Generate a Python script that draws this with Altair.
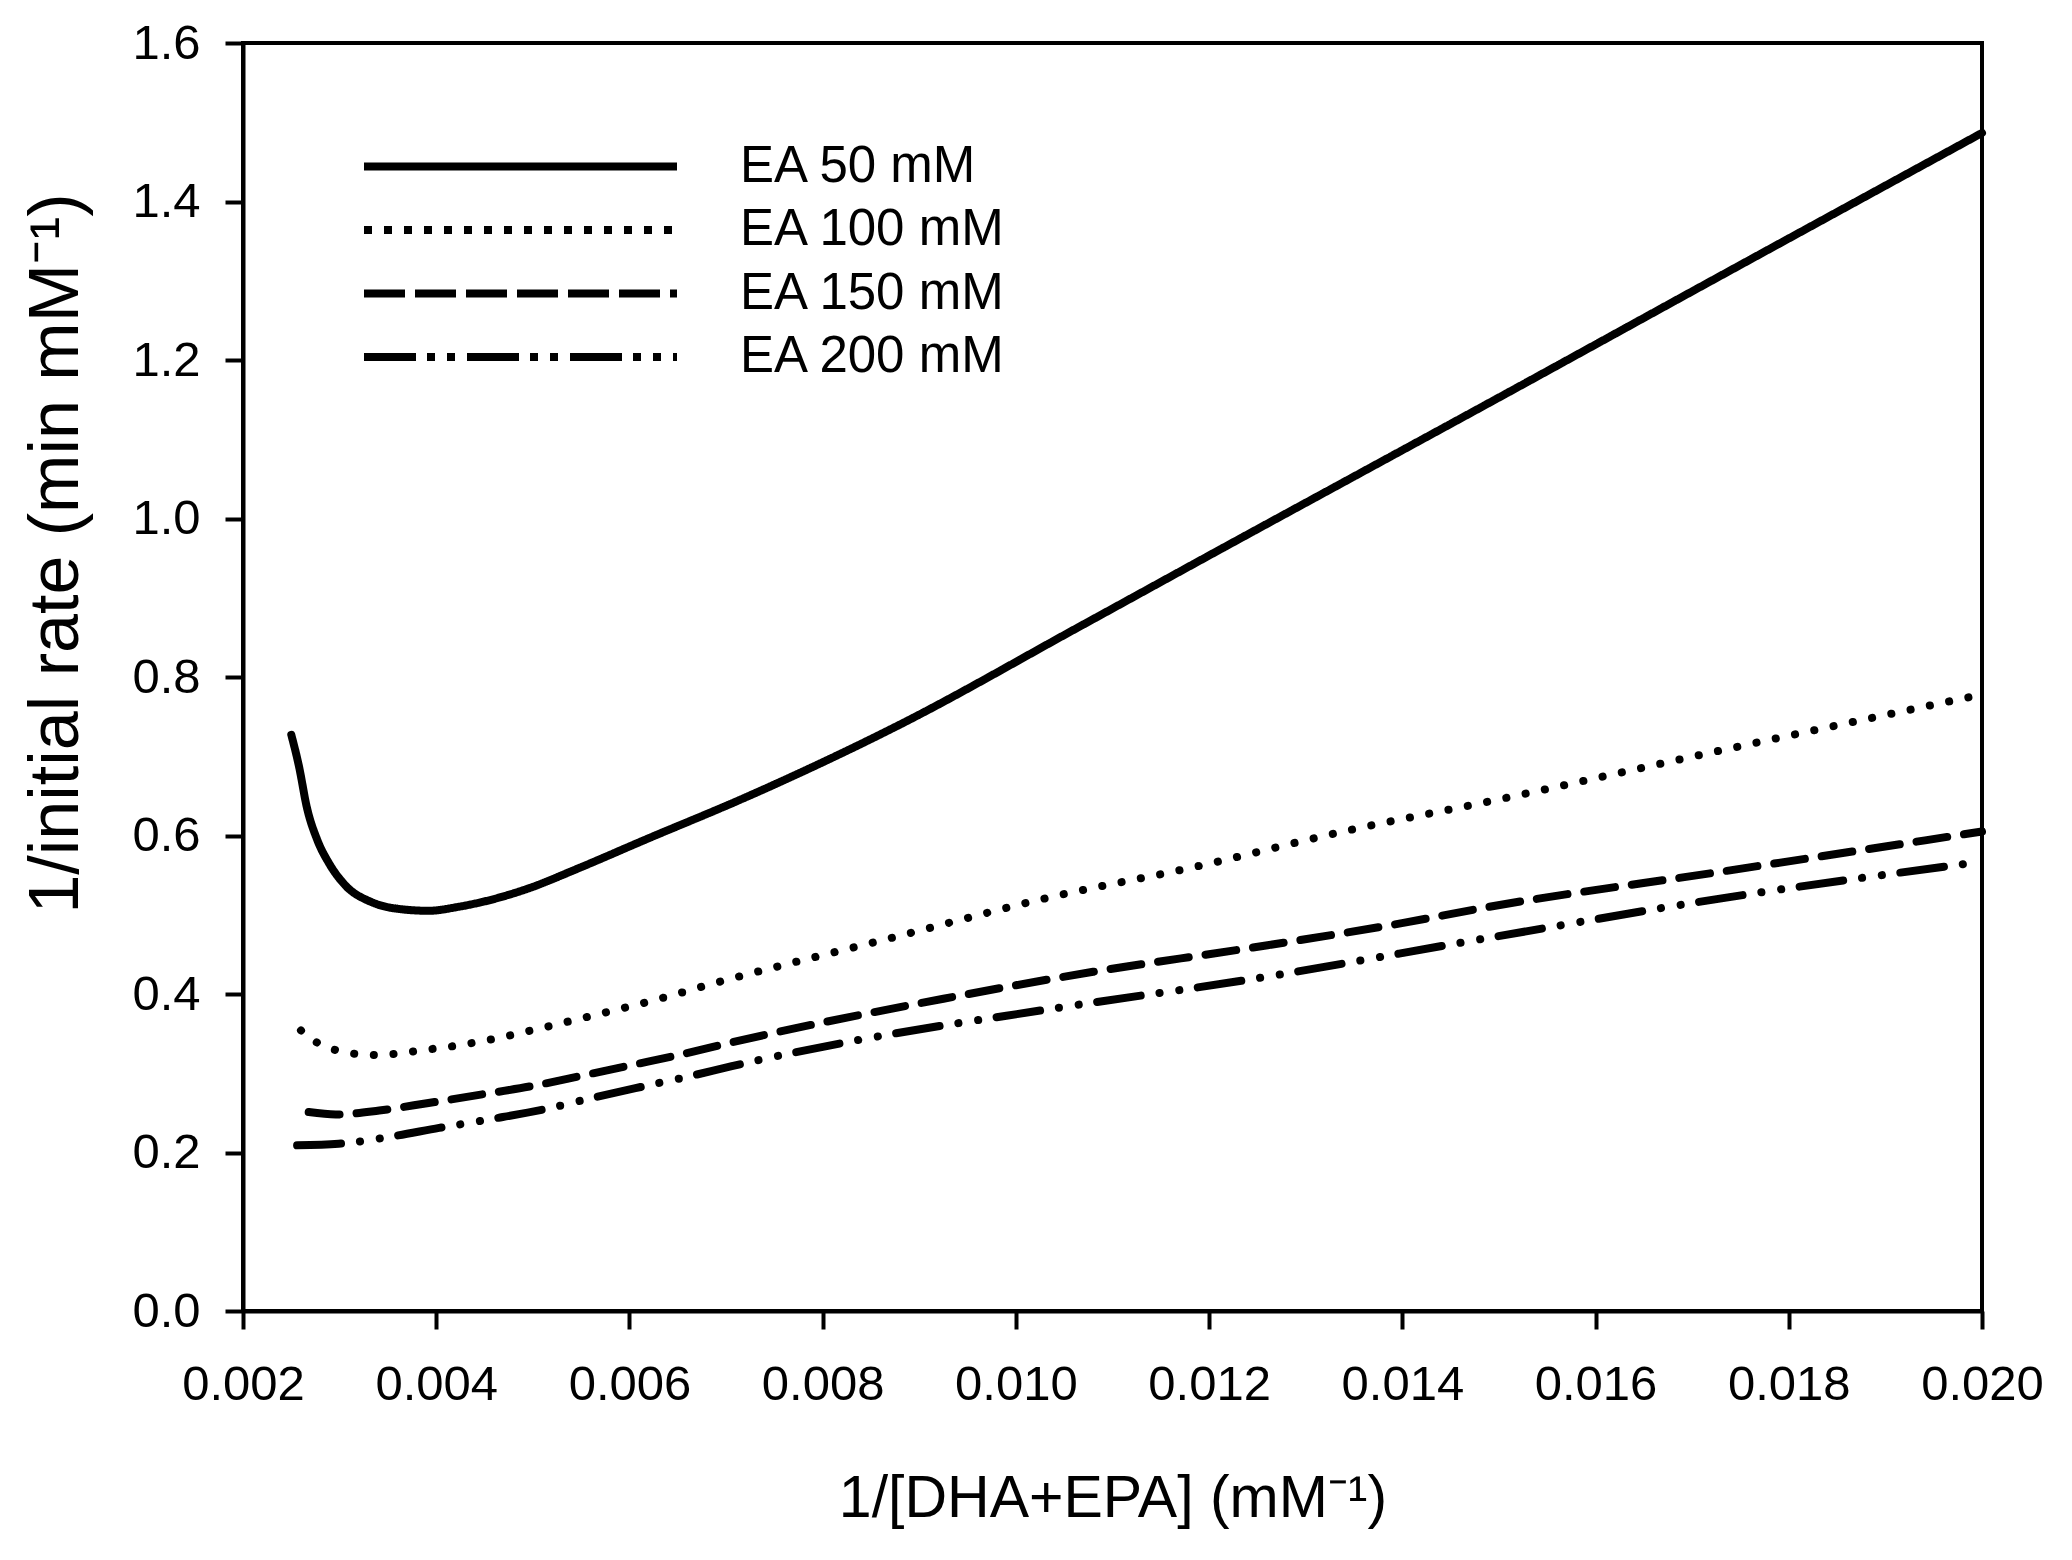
import altair as alt
import pandas as pd

series_labels = ["EA 50 mM", "EA 100 mM", "EA 150 mM", "EA 200 mM"]

x_ticks = [0.002, 0.004, 0.006, 0.008, 0.010, 0.012, 0.014, 0.016, 0.018, 0.020]
y_ticks = [0.0, 0.2, 0.4, 0.6, 0.8, 1.0, 1.2, 1.4, 1.6]

x_ea50 = [0.0025, 0.00258, 0.00266, 0.00277, 0.00289, 0.00306, 0.00333, 0.00357,
          0.00392, 0.00423, 0.00495, 0.00546, 0.00615, 0.0072, 0.0088, 0.01065,
          0.01216, 0.01356, 0.0149, 0.01732, 0.020]
y_ea50 = [0.727, 0.687, 0.636, 0.594, 0.565, 0.537, 0.516, 0.508,
          0.505, 0.510, 0.533, 0.558, 0.594, 0.648, 0.740, 0.863,
          0.964, 1.057, 1.146, 1.308, 1.4865]

x_ea100 = [0.0026, 0.00279, 0.0030, 0.00321, 0.00341, 0.00361, 0.00382, 0.00422,
           0.00464, 0.00505, 0.00566, 0.00628, 0.00689, 0.00875, 0.01035, 0.0118,
           0.01346, 0.0149, 0.01732, 0.020]
y_ea100 = [0.354, 0.337, 0.328, 0.324, 0.323, 0.325, 0.3285, 0.335,
           0.3445, 0.356, 0.374, 0.393, 0.414, 0.472, 0.522, 0.559,
           0.607, 0.643, 0.708, 0.778]

x_ea150 = [0.00268, 0.00296, 0.00341, 0.00392, 0.00446, 0.0050, 0.00551, 0.00605,
           0.00658, 0.00706, 0.00925, 0.0108, 0.0124, 0.01401, 0.0149, 0.01732, 0.020]
y_ea150 = [0.251, 0.248, 0.253, 0.2625, 0.273, 0.284, 0.297, 0.311,
           0.325, 0.339, 0.394, 0.428, 0.4576, 0.4897, 0.510, 0.5547, 0.605]

x_ea200 = [0.00256, 0.00299, 0.00351, 0.00403, 0.00456, 0.0051, 0.00562, 0.00613,
           0.00665, 0.00706, 0.00824, 0.01035, 0.0124, 0.0149, 0.01732, 0.020]
y_ea200 = [0.209, 0.211, 0.2196, 0.231, 0.242, 0.254, 0.269, 0.283,
           0.297, 0.309, 0.339, 0.381, 0.418, 0.471, 0.521, 0.567]

# dash patterns: drawn lines use round caps, legend symbols use butt caps
dash_main = [[1, 0], [0.1, 19.6], [31, 17], [44, 19, 0.1, 19.9, 0.1, 18.6]]
dash_legend = [[1, 0], [8, 12], [41, 10], [52, 11, 8, 12, 8, 12]]

rows = []
for lab, xs, ys in zip(series_labels,
                       [x_ea50, x_ea100, x_ea150, x_ea200],
                       [y_ea50, y_ea100, y_ea150, y_ea200]):
    for xv, yv in zip(xs, ys):
        rows.append({"x": xv, "y": yv, "series": lab})
df = pd.DataFrame(rows)

FONT = "Liberation Sans"

x_enc = alt.X(
    "x:Q",
    scale=alt.Scale(domain=[0.002, 0.020], nice=False, zero=False),
    axis=alt.Axis(
        values=x_ticks, format=".3f", grid=False,
        title="1/[DHA+EPA] (mM⁻¹)",
        titleFont=FONT, titleFontSize=59, titleFontWeight="normal", titleColor="black",
        titleY=205, titleBaseline="alphabetic",
        labelFont=FONT, labelFontSize=49, labelColor="black", labelPadding=31,
        labelFlush=False, labelOverlap=False, labelBound=False,
        domainColor="black", domainWidth=4, tickColor="black", tickWidth=4, tickSize=18,
    ),
)
y_enc = alt.Y(
    "y:Q",
    scale=alt.Scale(domain=[0, 1.6], nice=False),
    axis=alt.Axis(
        values=y_ticks, format=".1f", grid=False,
        title="1/initial rate (min mM⁻¹)",
        titleFont=FONT, titleFontSize=70, titleFontWeight="normal", titleColor="black",
        titleAngle=270, titleX=-166, titleY=510, titleAlign="center", titleBaseline="alphabetic",
        labelFont=FONT, labelFontSize=49, labelColor="black", labelPadding=25,
        labelFlush=False, labelOverlap=False, labelBound=False,
        domainColor="black", domainWidth=4, tickColor="black", tickWidth=4, tickSize=18,
    ),
)

lines = alt.Chart(df).mark_line(
    strokeWidth=8, strokeCap="round", strokeJoin="round",
    interpolate="monotone", color="black",
).encode(
    x=x_enc,
    y=y_enc,
    strokeDash=alt.StrokeDash(
        "series:N",
        scale=alt.Scale(domain=series_labels, range=dash_main),
        legend=None,
    ),
)

legend_layer = alt.Chart(df).transform_filter("datum.x < 0").mark_line(
    strokeWidth=8, color="black",
).encode(
    x=x_enc,
    y=y_enc,
    strokeDash=alt.StrokeDash(
        "series:N",
        scale=alt.Scale(domain=series_labels, range=dash_legend),
        legend=alt.Legend(
            orient="none", legendX=117, legendY=98, title=None, padding=0,
            symbolType="stroke", symbolSize=97969, symbolStrokeWidth=8,
            symbolStrokeColor="black", clipHeight=51,
            labelFont=FONT, labelFontSize=51, labelColor="black",
            labelOffset=59, labelLimit=0, rowPadding=11.5,
        ),
    ),
)

chart = alt.layer(lines, legend_layer).resolve_scale(
    strokeDash="independent"
).resolve_legend(
    strokeDash="independent"
).properties(
    width=1739,
    height=1268,
    padding={"left": 235, "top": 35, "right": 70, "bottom": 230},
    autosize=alt.AutoSizeParams(type="none"),
    background="white",
).configure_view(
    stroke="black", strokeWidth=4
)

chart.save("out.html", embed_options={"renderer": "svg", "actions": False})
